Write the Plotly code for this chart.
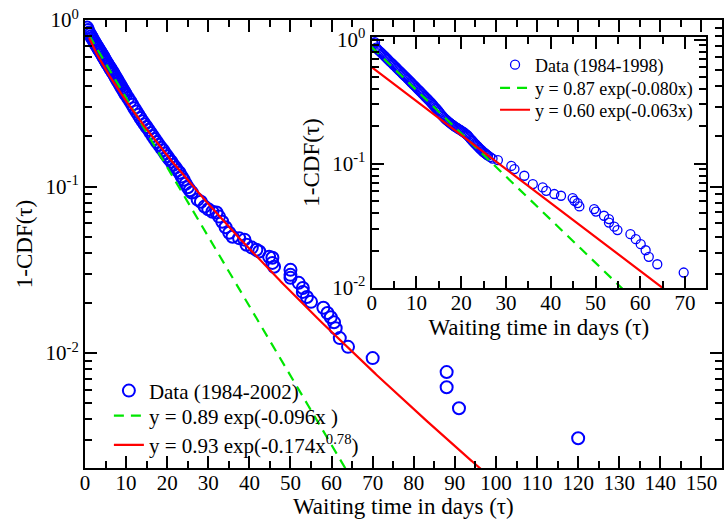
import numpy as np
import plotly.graph_objects as go

# ---------------- data ----------------
# Main panel: Data (1984-2002)
main_x = [0.5, 0.75, 1.0, 1.25, 1.5, 1.75, 2.0, 2.25, 2.5, 2.75, 3.0, 3.25, 3.5, 3.75,
          4.0, 4.25, 4.5, 4.75, 5.0, 5.25, 5.5, 5.75, 6.0, 6.25, 6.5, 6.75, 7.0, 7.25,
          7.5, 7.75, 8.0, 8.25, 8.5, 8.75, 9.0, 9.25, 9.5, 9.75, 10.0, 10.5, 11.0, 11.5,
          12.0, 12.5, 13.0, 13.5, 14.0, 14.5, 15.0, 15.5, 16.0, 16.5, 17.0, 17.5, 18.0,
          18.5, 19.0, 19.5, 20.0, 20.5, 21.0, 21.5, 22.0, 22.5, 23.0, 23.5, 24.0, 24.5,
          25.0, 25.5, 26.0, 27.4, 28.2, 29.1, 30.0, 31.0, 32.0, 32.6, 33.4, 34.2, 35.1,
          35.9, 37.5, 38.8, 39.3, 40.6, 41.7, 42.4, 44.8, 45.6, 45.6, 46.0, 50.0, 50.0,
          50.0, 52.0, 53.0, 53.0, 54.0, 55.0, 58.0, 59.0, 59.8, 60.6, 61.0, 62.0, 64.0,
          70.0, 88.0, 88.0, 91.0, 120.0]
main_y = [0.90, 0.87, 0.84, 0.82, 0.80, 0.78, 0.76, 0.742, 0.724, 0.707, 0.69, 0.674,
          0.659, 0.644, 0.63, 0.615, 0.60, 0.585, 0.57, 0.557, 0.545, 0.532, 0.52, 0.508,
          0.497, 0.486, 0.475, 0.463, 0.452, 0.441, 0.43, 0.42, 0.41, 0.40, 0.39, 0.381,
          0.372, 0.363, 0.355, 0.34, 0.325, 0.31, 0.295, 0.282, 0.27, 0.258, 0.247, 0.237,
          0.228, 0.219, 0.21, 0.201, 0.193, 0.185, 0.178, 0.171, 0.165, 0.158, 0.152,
          0.146, 0.141, 0.135, 0.13, 0.125, 0.121, 0.115, 0.11, 0.104, 0.099, 0.095,
          0.092, 0.0835, 0.081, 0.0758, 0.073, 0.0706, 0.0698, 0.066, 0.0615, 0.057,
          0.0528, 0.050, 0.049, 0.048, 0.0447, 0.043, 0.0417, 0.0407, 0.0379, 0.0374,
          0.0348, 0.033, 0.0316, 0.0295, 0.0283, 0.0264, 0.0246, 0.0233, 0.0217, 0.0203,
          0.0187, 0.0174, 0.0164, 0.0153, 0.0141, 0.0123, 0.0109, 0.00933, 0.00769,
          0.00624, 0.00466, 0.00308]

# Inset: Data (1984-1998)
inset_x = [0.25, 0.5, 0.75, 1.0, 1.25, 1.5, 1.75, 2.0, 2.25, 2.5, 2.75, 3.0, 3.25, 3.5,
           3.75, 4.0, 4.25, 4.5, 4.75, 5.0, 5.25, 5.5, 5.75, 6.0, 6.25, 6.5, 6.75, 7.0,
           7.25, 7.5, 7.75, 8.0, 8.25, 8.5, 8.75, 9.0, 9.25, 9.5, 9.75, 10.0, 10.25, 10.5,
           10.75, 11.0, 11.25, 11.5, 11.75, 12.0, 12.25, 12.5, 12.75, 13.0, 13.25, 13.5,
           13.75, 14.0, 14.25, 14.5, 14.75, 15.0, 15.25, 15.5, 15.75, 16.0, 16.25, 16.5,
           16.75, 17.0, 17.25, 17.5, 17.75, 18.0, 18.25, 18.5, 18.75, 19.0, 19.25, 19.5,
           19.75, 20.0, 20.25, 20.5, 20.75, 21.0, 21.25, 21.5, 21.75, 22.0, 22.25, 22.5,
           22.75, 23.0, 23.25, 23.5, 23.75, 24.0, 24.25, 24.5, 24.75, 25.0, 25.25, 25.5,
           25.75, 26.0, 26.5, 27.0,
           28.2, 31.2, 31.9, 34.1, 36.0, 38.2, 39.0, 40.8, 42.3, 44.9, 45.3, 46.0, 46.4,
           49.7, 50.1, 51.9, 53.0, 53.0, 54.2, 54.9, 57.8, 59.0, 60.1, 61.2, 61.9, 63.8,
           69.7]
inset_y = [0.94, 0.92, 0.95, 0.86, 0.84, 0.82, 0.805, 0.79, 0.775, 0.76, 0.745, 0.73,
           0.715, 0.70, 0.685, 0.67, 0.657, 0.645, 0.632, 0.62, 0.607, 0.595, 0.582, 0.57,
           0.559, 0.548, 0.536, 0.525, 0.515, 0.505, 0.495, 0.485, 0.475, 0.465, 0.455,
           0.445, 0.436, 0.428, 0.419, 0.41, 0.401, 0.393, 0.385, 0.377, 0.369, 0.361,
           0.353, 0.346, 0.339, 0.332, 0.325, 0.318, 0.311, 0.304, 0.297, 0.29, 0.283,
           0.277, 0.27, 0.264, 0.257, 0.25, 0.244, 0.238, 0.233, 0.228, 0.224, 0.22, 0.216,
           0.213, 0.209, 0.206, 0.203, 0.2, 0.197, 0.195, 0.192, 0.19, 0.187, 0.185, 0.182,
           0.18, 0.177, 0.174, 0.171, 0.168, 0.164, 0.16, 0.156, 0.153, 0.149, 0.146,
           0.143, 0.14, 0.137, 0.134, 0.131, 0.129, 0.126, 0.124, 0.122, 0.12, 0.118,
           0.116, 0.113, 0.11,
           0.107, 0.096, 0.0906, 0.080, 0.0686, 0.0644, 0.0605, 0.057, 0.0552, 0.0529,
           0.0503, 0.0482, 0.0453, 0.0431, 0.0412, 0.0381, 0.0358, 0.0336, 0.0311, 0.0292,
           0.0271, 0.0247, 0.0225, 0.0201, 0.0178, 0.0155, 0.0133]

# Fit parameters (from the legends)
main_exp_a, main_exp_b = 0.89, 0.096
main_str_a, main_str_b, main_str_c = 0.93, 0.174, 0.78
inset_g_a, inset_g_b = 0.87, 0.080
inset_r_a, inset_r_b = 0.60, 0.063

main_names = ["Data (1984-2002)", "y = 0.89 exp(-0.096x )",
              "y = 0.93 exp(-0.174x<sup>0.78</sup>)"]
inset_names = ["Data (1984-1998)", "y = 0.87 exp(-0.080x)", "y = 0.60 exp(-0.063x)"]

main_xticks = list(range(0, 151, 10))
main_yticks = [1, 0.1, 0.01]
main_yticktext = ["10<sup>0</sup>", "10<sup>-1</sup>", "10<sup>-2</sup>"]
inset_xticks = list(range(0, 71, 10))
inset_yticks = [1, 0.1, 0.01]
inset_yticktext = ["10<sup>0</sup>", "10<sup>-1</sup>", "10<sup>-2</sup>"]

xtitle = "Waiting time in days (τ)"
ytitle = "1-CDF(τ)"

# ---------------- fit curves ----------------
cx_main = np.linspace(1, 100, 500)
main_exp_y = main_exp_a * np.exp(-main_exp_b * cx_main)
main_str_y = main_str_a * np.exp(-main_str_b * cx_main ** main_str_c)
cx_inset = np.linspace(0, 75, 400)
inset_g_y = inset_g_a * np.exp(-inset_g_b * cx_inset)
inset_r_y = inset_r_a * np.exp(-inset_r_b * cx_inset)

BLUE = "#0000ff"
GREEN = "#00e600"
RED = "#ff0000"
FONT = "Liberation Serif"

fig = go.Figure()
fig.add_trace(go.Scatter(x=main_x, y=main_y, mode="markers", name=main_names[0],
                         marker=dict(symbol="circle-open", size=12, color=BLUE,
                                     line=dict(width=2, color=BLUE)),
                         xaxis="x", yaxis="y", legend="legend", showlegend=True))
fig.add_trace(go.Scatter(x=cx_main, y=main_exp_y, mode="lines", name=main_names[1],
                         line=dict(color=GREEN, width=2.2, dash="10px,7px"),
                         xaxis="x", yaxis="y", legend="legend2"))
fig.add_trace(go.Scatter(x=cx_main, y=main_str_y, mode="lines", name=main_names[2],
                         line=dict(color=RED, width=2.2),
                         xaxis="x", yaxis="y", legend="legend3"))

fig.add_trace(go.Scatter(x=inset_x, y=inset_y, mode="markers", name=inset_names[0],
                         marker=dict(symbol="circle-open", size=9, color=BLUE,
                                     line=dict(width=1.3, color=BLUE)),
                         xaxis="x2", yaxis="y2", legend="legend4"))
fig.add_trace(go.Scatter(x=cx_inset, y=inset_g_y, mode="lines", name=inset_names[1],
                         line=dict(color=GREEN, width=2.2, dash="10px,7px"),
                         xaxis="x2", yaxis="y2", legend="legend5"))
fig.add_trace(go.Scatter(x=cx_inset, y=inset_r_y, mode="lines", name=inset_names[2],
                         line=dict(color=RED, width=2.2),
                         xaxis="x2", yaxis="y2", legend="legend6"))

minor_log = [m * 10.0 ** k for k in (-3, -2, -1) for m in range(2, 10)]

axis_common = dict(showline=True, linecolor="black", linewidth=2, mirror="allticks",
                   ticks="inside", ticklen=12, tickwidth=1.5, tickcolor="black",
                   showgrid=False, zeroline=False,
                   tickfont=dict(family=FONT, size=21, color="black"))


def leg(x, y, size):
    return dict(x=x, y=y, xanchor="left", yanchor="middle", visible=True,
                bgcolor="rgba(0,0,0,0)", font=dict(family=FONT, size=size),
                tracegroupgap=0)


fig.update_layout(
    width=725, height=521, autosize=False, showlegend=True,
    margin=dict(l=85, r=1, t=20, b=53),
    paper_bgcolor="white", plot_bgcolor="white",
    font=dict(family=FONT, color="black"),
    xaxis=dict(axis_common, domain=[0, 1], range=[0, 155], anchor="y",
               tickvals=main_xticks, ticklabelstandoff=-5,
               minor=dict(ticks="inside", ticklen=7, tickwidth=1.5, dtick=5, tick0=0,
                          tickcolor="black")),
    yaxis=dict(axis_common, domain=[0, 1], type="log", range=[-2.69, 0], anchor="x",
               tickvals=main_yticks, ticktext=main_yticktext,
               minor=dict(ticks="inside", ticklen=7, tickwidth=1.5, tickvals=minor_log,
                          tickcolor="black"),
               title=dict(text=ytitle, font=dict(family=FONT, size=23), standoff=6)),
    xaxis2=dict(axis_common, domain=[0.45, 0.975], range=[0, 74.7], anchor="y2",
                tickvals=inset_xticks, ticklabelstandoff=-5,
                minor=dict(ticks="inside", ticklen=7, tickwidth=1.5, dtick=5, tick0=0,
                           tickcolor="black"),
                title=dict(text=xtitle, font=dict(family=FONT, size=23), standoff=0)),
    yaxis2=dict(axis_common, domain=[0.402, 0.962], type="log", range=[-2, 0.02],
                anchor="x2", tickvals=inset_yticks, ticktext=inset_yticktext,
                minor=dict(ticks="inside", ticklen=7, tickwidth=1.5, tickvals=minor_log,
                           tickcolor="black"),
                title=dict(text=ytitle, font=dict(family=FONT, size=23), standoff=6)),
    legend=leg(0.0375, 0.172, 21),
    legend2=leg(0.0375, 0.116, 21),
    legend3=leg(0.0375, 0.051, 21),
    legend4=leg(0.6437, 0.8995, 18),
    legend5=leg(0.6437, 0.848, 18),
    legend6=leg(0.6437, 0.799, 18),
    annotations=[dict(text=xtitle, xref="paper", yref="paper", x=0.5, y=-0.085,
                      xanchor="center", yanchor="middle", showarrow=False,
                      font=dict(family=FONT, size=23, color="black"))],
)

fig.write_html("out.html", config={"displayModeBar": False},
               post_script="document.body.style.margin='0px';")
